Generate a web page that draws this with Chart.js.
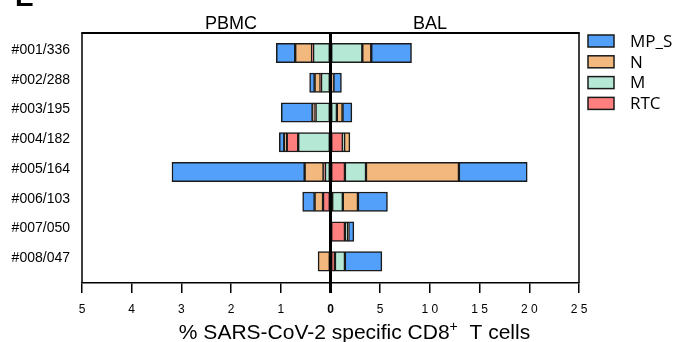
<!DOCTYPE html>
<html>
<head>
<meta charset="utf-8">
<script src="https://cdn.jsdelivr.net/npm/chart.js@4.4.1/dist/chart.umd.min.js"></script>
<style>
  html, body { margin: 0; padding: 0; background: #fff; }
</style>
</head>
<body>
<canvas id="chart" width="674" height="342"></canvas>
<script>
"use strict";

// ═══════════════════════════════════════
// DATA
// ═══════════════════════════════════════

const donors = ["#001/336", "#002/288", "#003/195", "#004/182", "#005/164", "#006/103", "#007/050", "#008/047"];
const series = ["MP_S", "N", "M", "RTC"];

// BAL (right half, 0–25 %)
const balRTC = [0,    0,    0,    1.24, 1.45, 0.17, 1.45, 0.45];
const balM   = [3.2,  0,    0.64, 0.13, 2.12, 1.07, 0.3,  1.0];
const balN   = [0.9,  0.3,  0.57, 0.58, 9.35, 1.52, 0.05, 0];
const balMPS = [4.05, 0.8,  0.94, 0,    6.87, 2.97, 0.55, 3.72];

// PBMC (left half, 0–5 %)
const pbmcM   = [0.35, 0.19, 0.3,  0.65, 0.11, 0,    0, 0];
const pbmcRTC = [0.02, 0.01, 0.01, 0.23, 0.03, 0.15, 0, 0];
const pbmcN   = [0.34, 0.12, 0.05, 0.05, 0.38, 0.17, 0, 0.25];
const pbmcMPS = [0.38, 0.1,  0.63, 0.1,  2.67, 0.24, 0, 0];

const ticksPBMC = [5, 4, 3, 2, 1];
const ticksBAL  = [0, 5, 10, 15, 20, 25];

// 1 % on the PBMC side takes as much room as 5 % on the BAL side
const PBMC_SCALE = 5;

const COLORS = { MP_S: "#52a0fa", N: "#f2b87e", M: "#b5e9d6", RTC: "#ff7f7f" };
const FONT = "'Liberation Sans', Arial, sans-serif";

// ═══════════════════════════════════════
// DATASETS
// ═══════════════════════════════════════

function points(values, sign) {
    return values.map((v, i) => ({ x: v ? sign * v : null, y: i }));
}

function dataset(name, values, sign) {
    return {
        label: name,
        data: points(values, sign),
        backgroundColor: COLORS[name],
        borderColor: "#1a1a1a",
        borderWidth: 1.5,
        borderSkipped: false,
        barThickness: 19.5,
        stack: "all"
    };
}

// order in the array = stacking order outward from zero
const datasets = [
    dataset("RTC",  balRTC, 1),
    dataset("M",    balM,   1),
    dataset("N",    balN,   1),
    dataset("MP_S", balMPS, 1),
    dataset("M",    pbmcM,   -PBMC_SCALE),
    dataset("RTC",  pbmcRTC, -PBMC_SCALE),
    dataset("N",    pbmcN,   -PBMC_SCALE),
    dataset("MP_S", pbmcMPS, -PBMC_SCALE)
];

// ═══════════════════════════════════════
// PLUGINS
// ═══════════════════════════════════════

// box around the plot + thick zero line
const frame = {
    id: "frame",
    afterDatasetsDraw(chart) {
        const { ctx, chartArea: a, scales } = chart;
        const x0 = scales.x.getPixelForValue(0);
        ctx.save();
        ctx.strokeStyle = "#000";
        ctx.lineWidth = 2;
        ctx.beginPath();
        ctx.moveTo(a.left - 0.75, a.top); ctx.lineTo(a.right + 0.75, a.top);
        ctx.stroke();
        ctx.lineWidth = 1.5;
        ctx.beginPath();
        ctx.moveTo(a.left, a.top); ctx.lineTo(a.left, a.bottom);
        ctx.moveTo(a.right, a.top); ctx.lineTo(a.right, a.bottom);
        ctx.stroke();
        ctx.lineWidth = 3;
        ctx.beginPath();
        ctx.moveTo(x0, a.top); ctx.lineTo(x0, a.bottom + 10);
        ctx.stroke();
        ctx.restore();
    }
};

// half titles, axis title, legend, panel letter
const texts = {
    id: "texts",
    afterDraw(chart) {
        const { ctx, chartArea: a, scales } = chart;
        ctx.save();
        ctx.fillStyle = "#000";
        ctx.textBaseline = "alphabetic";

        ctx.font = "18px " + FONT;
        ctx.textAlign = "center";
        ctx.fillText("PBMC", scales.x.getPixelForValue(-2 * PBMC_SCALE), a.top - 4);
        ctx.fillText("BAL", scales.x.getPixelForValue(10), a.top - 4);

        // x title with superscript +
        const main = "% SARS-CoV-2 specific CD8", sup = "+", tail = "  T cells";
        ctx.font = "21px " + FONT;
        const w1 = ctx.measureText(main).width, w3 = ctx.measureText(tail).width;
        ctx.font = "14px " + FONT;
        const w2 = ctx.measureText(sup).width;
        let x = (a.left + a.right) / 2 + 24 - (w1 + w2 + w3) / 2;
        const yb = 339;
        ctx.textAlign = "left";
        ctx.font = "21px " + FONT;
        ctx.fillText(main, x, yb);
        ctx.font = "14px " + FONT;
        ctx.fillText(sup, x + w1, yb - 8);
        ctx.font = "21px " + FONT;
        ctx.fillText(tail, x + w1 + w2, yb);

        // legend
        ctx.font = "17px 'Open Sans', sans-serif";
        ctx.textBaseline = "middle";
        series.forEach((name, i) => {
            const cy = a.top + 8 + i * 20.8;
            ctx.fillStyle = COLORS[name];
            ctx.fillRect(a.right + 9, cy - 6, 26, 12);
            ctx.strokeStyle = "#1a1a1a";
            ctx.lineWidth = 1.5;
            ctx.strokeRect(a.right + 9, cy - 6, 26, 12);
            ctx.fillStyle = "#000";
            ctx.fillText(name, a.right + 51, cy + 1);
        });

        // panel letter, mostly cut off at the top
        ctx.textBaseline = "alphabetic";
        ctx.font = "bold 28px " + FONT;
        ctx.fillText("E", 15, 6);
        ctx.restore();
    }
};

// ═══════════════════════════════════════
// CHART
// ═══════════════════════════════════════

new Chart(document.getElementById("chart"), {
    type: "bar",
    data: { datasets },
    options: {
        indexAxis: "y",
        responsive: false,
        animation: false,
        layout: { padding: { top: 33, right: 95, left: 0, bottom: 0 } },
        plugins: { legend: { display: false }, tooltip: { enabled: false } },
        scales: {
            x: {
                type: "linear", min: -25, max: 25, stacked: true,
                afterFit: s => { s.height = 59; },
                afterBuildTicks: s => {
                    s.ticks = ticksPBMC.map(v => ({ value: -v * PBMC_SCALE }))
                        .concat(ticksBAL.map(v => ({ value: v })));
                },
                ticks: {
                    autoSkip: false, maxRotation: 0, padding: 9, color: "#000",
                    callback: v => v < 0 ? String(-v / PBMC_SCALE) : String(v).split("").join(" "),
                    font: c => ({ family: FONT, size: 12, weight: c.tick && c.tick.value === 0 ? "bold" : "normal" })
                },
                grid: { drawOnChartArea: false, drawTicks: true, tickLength: 10, color: "#000", lineWidth: 1.5 },
                border: { display: true, color: "#000", width: 1.5 }
            },
            y: {
                type: "linear", min: -0.672, max: 7.729, reverse: true, stacked: true, offset: false,
                afterFit: s => { s.width = 82; },
                afterBuildTicks: s => { s.ticks = donors.map((_, i) => ({ value: i })); },
                ticks: {
                    autoSkip: false, padding: 4, labelOffset: -3, color: "#000",
                    callback: v => donors[v],
                    font: { family: FONT, size: 14 }
                },
                grid: { display: false, offset: false },
                border: { display: false }
            }
        }
    },
    plugins: [frame, texts]
});
</script>
</body>
</html>
